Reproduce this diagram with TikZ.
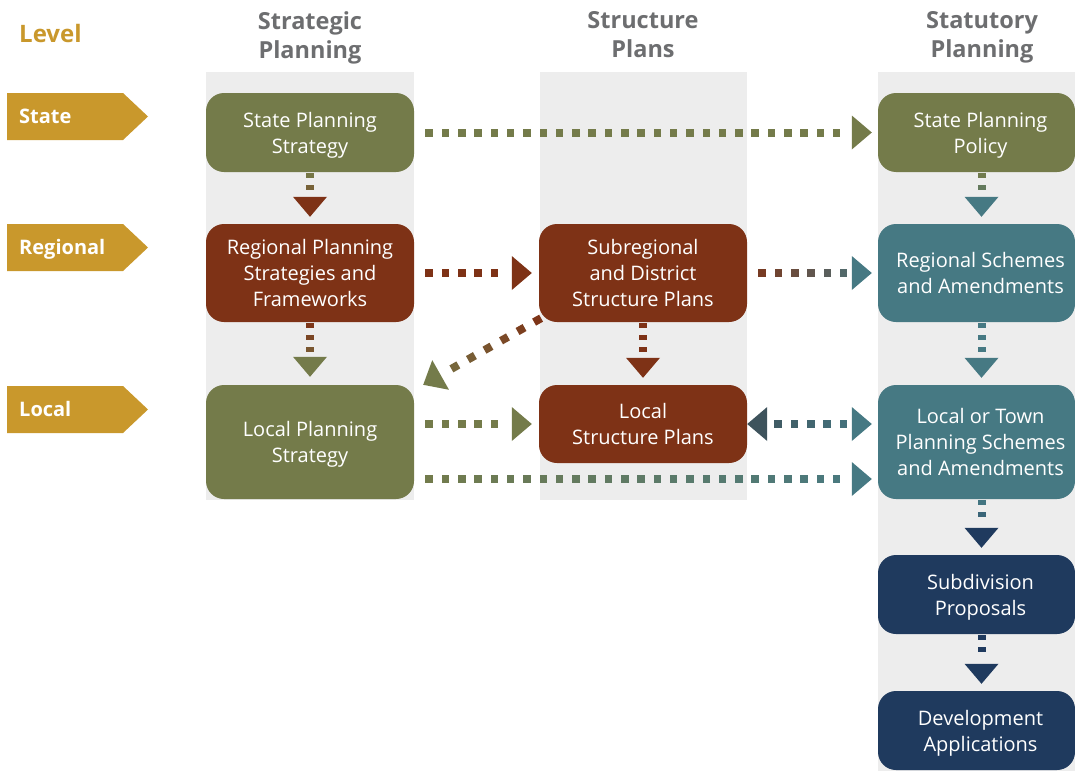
\documentclass[tikz,border=0pt]{standalone}
\usepackage{fontspec}
\setmainfont{Open Sans}
\usetikzlibrary{decorations.markings}
\definecolor{cgreen}{HTML}{747B4A}
\definecolor{cbrown}{HTML}{7E3216}
\definecolor{cteal}{HTML}{467983}
\definecolor{cnavy}{HTML}{1F3A5E}
\definecolor{cgold}{HTML}{C9982C}
\definecolor{cbg}{HTML}{EDEDED}
\definecolor{chead}{HTML}{6D6E70}
\definecolor{cslate}{HTML}{3E535C}
\newcommand{\sh}{\hspace*{8pt}}
\tikzset{
  box/.style={rounded corners=18pt, align=center, text=white, inner sep=0pt,
    text depth=0pt, font=\fontsize{20}{26}\selectfont},
  colhead/.style={align=center, anchor=north, inner sep=0pt, text=chead,
    font=\bfseries\fontsize{23.5}{28.5}\selectfont},
  lvltext/.style={anchor=base west, inner sep=0pt, text=white, font=\bfseries\fontsize{20}{24}\selectfont},
  lvlarrow/.style={fill=cgold},
}
% #1 from, #2 to, #3 start colour, #4 end colour, #5 step, #6 square length along, #7 first position
\newcommand{\flow}[7]{%
  \path[postaction={decorate,decoration={markings,
    mark=between positions #7 and -24pt step #5 with {%
      \pgfmathsetmacro\ratio{\pgfkeysvalueof{/pgf/decoration/mark info/distance from start}/\pgfdecoratedpathlength}%
      \pgfmathtruncatemacro\pp{100*\ratio}%
      \fill[#4!\pp!#3] (-#6/2,-4pt) rectangle (#6/2,4pt);},
    mark=at position 1 with {\fill[#4] (-20pt,17pt) -- (0pt,0pt) -- (-20pt,-17pt) -- cycle;}}}]
    (#1) -- (#2);}
\newcommand{\hflow}[4]{\flow{#1}{#2}{#3}{#4}{16.3pt}{7.5pt}{15pt}}
\newcommand{\vflow}[4]{\flow{#1}{#2}{#3}{#4}{12pt}{5.5pt}{3.5pt}}
\newcommand{\backhead}[2]{%
  \path[postaction={decorate,decoration={markings,
    mark=at position 0 with {\fill[cslate] (20pt,17pt) -- (0pt,0pt) -- (20pt,-17pt) -- cycle;}}}]
    (#1) -- (#2);}
\begin{document}
\begin{tikzpicture}[x=1pt,y=-1pt]
\useasboundingbox (0,0) rectangle (1075,771);
% column backgrounds
\fill[cbg] (206,72) rectangle (414,500);
\fill[cbg] (540,72) rectangle (747,500);
\fill[cbg] (878,72) rectangle (1075,771);
% headings
\node[anchor=base west, inner sep=0pt, text=cgold, font=\bfseries\fontsize{24}{28}\selectfont] (level) at (19,42) {Level};
\node[colhead] (h1) at (310,11.5) {Strategic\\Planning};
\node[colhead] (h2) at (643,11.5) {Structure\\Plans};
\node[colhead] (h3) at (982,11.5) {Statutory\\Planning};
% level arrows
\fill[lvlarrow] (7,93) -- (123,93) -- (148,116.5) -- (123,140) -- (7,140) -- cycle;
\node[lvltext] (lstate) at (19,123.5) {State};
\fill[lvlarrow] (7,224) -- (123,224) -- (148,247.5) -- (123,271) -- (7,271) -- cycle;
\node[lvltext] (lregional) at (19,254.5) {Regional};
\fill[lvlarrow] (7,386) -- (123,386) -- (148,409.5) -- (123,433) -- (7,433) -- cycle;
\node[lvltext] (llocal) at (19,416.5) {Local};
% boxes
\node[box, fill=cgreen, minimum width=208pt, minimum height=79pt] (sps) at (310,132.5) {State Planning\\Strategy};
\node[box, fill=cbrown, minimum width=208pt, minimum height=98pt] (rps) at (310,273) {Regional Planning\\Strategies and\\Frameworks};
\node[box, fill=cgreen, minimum width=208pt, minimum height=114pt] (lps) at (310,442) {Local Planning\\Strategy};
\node[box, fill=cbrown, minimum width=208pt, minimum height=98pt] (sub) at (643,273) {Subregional\\and District\\Structure Plans};
\node[box, fill=cbrown, minimum width=208pt, minimum height=78pt] (lsp) at (643,424) {Local\\Structure Plans};
\node[box, fill=cgreen, minimum width=197pt, minimum height=79pt] (spp) at (976.5,132.5) {\sh State Planning\\\sh Policy};
\node[box, fill=cteal, minimum width=197pt, minimum height=98pt] (rss) at (976.5,273) {\sh Regional Schemes\\\sh and Amendments};
\node[box, fill=cteal, minimum width=197pt, minimum height=114pt] (lts) at (976.5,442) {\sh Local or Town\\\sh Planning Schemes\\\sh and Amendments};
\node[box, fill=cnavy, minimum width=197pt, minimum height=79pt] (sdp) at (976.5,594.5) {\sh Subdivision\\\sh Proposals};
\node[box, fill=cnavy, minimum width=197pt, minimum height=79pt] (dev) at (976.5,730.5) {\sh Development\\\sh Applications};
% connectors
\vflow{sps.south}{[yshift=7pt]rps.north}{cgreen}{cbrown}
\hflow{sps.east}{[xshift=-6pt]spp.west}{cgreen}{cgreen}
\hflow{rps.east}{[xshift=-7pt]sub.west}{cbrown}{cbrown}
\hflow{sub.east}{[xshift=-6pt]rss.west}{cbrown}{cteal}
\vflow{[xshift=5pt]spp.south}{[xshift=5pt,yshift=7pt]rss.north}{cgreen}{cteal}
\vflow{rps.south}{[yshift=8pt]lps.north}{cbrown}{cgreen}
\vflow{sub.south}{[yshift=7pt]lsp.north}{cbrown}{cbrown}
\flow{[xshift=4pt,yshift=5pt]sub.south west}{[xshift=9pt]lps.north east}{cbrown}{cgreen}{19pt}{8pt}{6pt}
\vflow{[xshift=5pt]rss.south}{[xshift=5pt,yshift=7pt]lts.north}{cteal}{cteal}
\hflow{[yshift=18pt]lps.east}{[xshift=-7pt]lsp.west}{cgreen}{cgreen}
\hflow{[yshift=-37pt]lps.east}{[xshift=-6pt,yshift=-37pt]lts.west}{cgreen}{cteal}
\flow{lsp.east}{[xshift=-6pt,yshift=18pt]lts.west}{cslate}{cteal}{16.3pt}{7.5pt}{31pt}
\backhead{lsp.east}{[xshift=-6pt,yshift=18pt]lts.west}
\vflow{[xshift=5pt]lts.south}{[xshift=5pt,yshift=7pt]sdp.north}{cteal}{cnavy}
\vflow{[xshift=5pt]sdp.south}{[xshift=5pt,yshift=7pt]dev.north}{cnavy}{cnavy}
\end{tikzpicture}
\end{document}
